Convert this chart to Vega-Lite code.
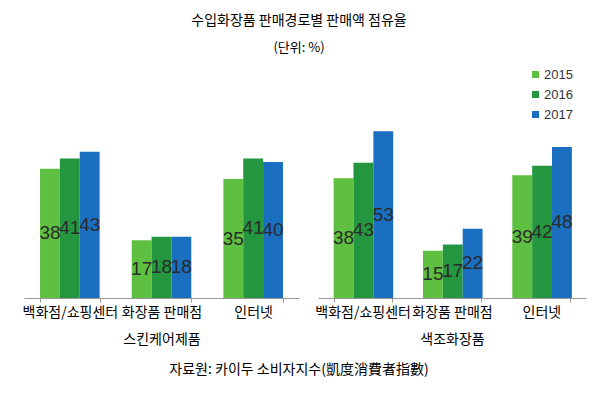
{
  "$schema": "https://vega.github.io/schema/vega-lite/v6.json",
  "background": "white",
  "padding": {"left": 22, "top": 14, "right": 5, "bottom": 5},
  "datasets": {
    "share": [
      {"panel": "스킨케어제품", "channel": "백화점/쇼핑센터", "year": "2015", "value": 38},
      {"panel": "스킨케어제품", "channel": "백화점/쇼핑센터", "year": "2016", "value": 41},
      {"panel": "스킨케어제품", "channel": "백화점/쇼핑센터", "year": "2017", "value": 43},
      {"panel": "스킨케어제품", "channel": "화장품 판매점", "year": "2015", "value": 17},
      {"panel": "스킨케어제품", "channel": "화장품 판매점", "year": "2016", "value": 18},
      {"panel": "스킨케어제품", "channel": "화장품 판매점", "year": "2017", "value": 18},
      {"panel": "스킨케어제품", "channel": "인터넷", "year": "2015", "value": 35},
      {"panel": "스킨케어제품", "channel": "인터넷", "year": "2016", "value": 41},
      {"panel": "스킨케어제품", "channel": "인터넷", "year": "2017", "value": 40},
      {"panel": "색조화장품", "channel": "백화점/쇼핑센터", "year": "2015", "value": 38},
      {"panel": "색조화장품", "channel": "백화점/쇼핑센터", "year": "2016", "value": 43},
      {"panel": "색조화장품", "channel": "백화점/쇼핑센터", "year": "2017", "value": 53},
      {"panel": "색조화장품", "channel": "화장품 판매점", "year": "2015", "value": 15},
      {"panel": "색조화장품", "channel": "화장품 판매점", "year": "2016", "value": 17},
      {"panel": "색조화장품", "channel": "화장품 판매점", "year": "2017", "value": 22},
      {"panel": "색조화장품", "channel": "인터넷", "year": "2015", "value": 39},
      {"panel": "색조화장품", "channel": "인터넷", "year": "2016", "value": 42},
      {"panel": "색조화장품", "channel": "인터넷", "year": "2017", "value": 48}
    ]
  },
  "title": {
    "text": "수입화장품 판매경로별 판매액 점유율",
    "subtitle": "(단위: %)",
    "font": "Noto Sans CJK KR",
    "fontSize": 14,
    "fontWeight": "normal",
    "color": "#000000",
    "subtitleFont": "Noto Sans CJK KR",
    "subtitleFontSize": 13,
    "subtitleColor": "#000000",
    "subtitlePadding": 14,
    "anchor": "middle",
    "dx": -5,
    "offset": 13
  },
  "vconcat": [
    {
      "title": {
        "text": "자료원: 카이두 소비자지수(凱度消費者指數)",
        "orient": "bottom",
        "font": "Noto Sans CJK KR",
        "fontSize": 14,
        "fontWeight": "normal",
        "color": "#000000",
        "anchor": "middle",
        "dx": -5,
        "offset": 17
      },
      "spacing": 15,
      "resolve": {"scale": {"y": "independent"}},
      "hconcat": [
        {
          "width": 275,
          "height": 170,
          "data": {"name": "share"},
          "transform": [
            {"filter": "datum.panel === '스킨케어제품'"},
            {"calculate": "datum.value / 2", "as": "mid"}
          ],
          "encoding": {
            "x": {
              "field": "channel",
              "type": "nominal",
              "sort": ["백화점/쇼핑센터", "화장품 판매점", "인터넷"],
              "scale": {"paddingInner": 0.35, "paddingOuter": 0.175},
              "axis": {"title": "스킨케어제품", "labelAngle": 0}
            },
            "xOffset": {"field": "year", "type": "nominal"}
          },
          "layer": [
            {
              "mark": {"type": "bar"},
              "encoding": {
                "y": {"field": "value", "type": "quantitative", "scale": {"domain": [0, 50]}, "axis": null},
                "color": {
                  "field": "year",
                  "type": "nominal",
                  "scale": {"domain": ["2015", "2016", "2017"], "range": ["#5fbf40", "#24963f", "#1a6fc0"]},
                  "legend": {
                    "title": null,
                    "orient": "none",
                    "legendX": 505,
                    "legendY": -60,
                    "symbolType": "square",
                    "symbolSize": 49,
                    "symbolStrokeWidth": 0,
                    "labelFont": "Liberation Sans",
                    "labelFontSize": 13,
                    "labelColor": "#333333",
                    "rowPadding": 6,
                    "labelOffset": 2
                  }
                }
              }
            },
            {
              "mark": {"type": "text", "font": "Liberation Sans", "fontSize": 19, "color": "#2b2b2b", "baseline": "middle"},
              "encoding": {
                "y": {"field": "mid", "type": "quantitative", "scale": {"domain": [0, 50]}, "axis": null},
                "text": {"field": "value", "type": "quantitative"}
              }
            }
          ]
        },
        {
          "width": 268,
          "height": 170,
          "data": {"name": "share"},
          "transform": [
            {"filter": "datum.panel === '색조화장품'"},
            {"calculate": "datum.value / 2", "as": "mid"}
          ],
          "encoding": {
            "x": {
              "field": "channel",
              "type": "nominal",
              "sort": ["백화점/쇼핑센터", "화장품 판매점", "인터넷"],
              "scale": {"paddingInner": 0.35, "paddingOuter": 0.175},
              "axis": {"title": "색조화장품", "labelAngle": 0}
            },
            "xOffset": {"field": "year", "type": "nominal"}
          },
          "layer": [
            {
              "mark": {"type": "bar"},
              "encoding": {
                "y": {"field": "value", "type": "quantitative", "scale": {"domain": [0, 54]}, "axis": null},
                "color": {
                  "field": "year",
                  "type": "nominal",
                  "scale": {"domain": ["2015", "2016", "2017"], "range": ["#5fbf40", "#24963f", "#1a6fc0"]}
                }
              }
            },
            {
              "mark": {"type": "text", "font": "Liberation Sans", "fontSize": 19, "color": "#2b2b2b", "baseline": "middle"},
              "encoding": {
                "y": {"field": "mid", "type": "quantitative", "scale": {"domain": [0, 54]}, "axis": null},
                "text": {"field": "value", "type": "quantitative"}
              }
            }
          ]
        }
      ]
    }
  ],
  "config": {
    "view": {"stroke": null},
    "axisX": {
      "domainColor": "#9a9a9a",
      "tickColor": "#9a9a9a",
      "tickSize": 4,
      "tickBand": "extent",
      "labelFont": "Noto Sans CJK KR",
      "labelFontSize": 14,
      "labelColor": "#000000",
      "labelPadding": 3,
      "titleFont": "Noto Sans CJK KR",
      "titleFontSize": 14,
      "titleFontWeight": "normal",
      "titleColor": "#000000",
      "titlePadding": 13
    }
  }
}
